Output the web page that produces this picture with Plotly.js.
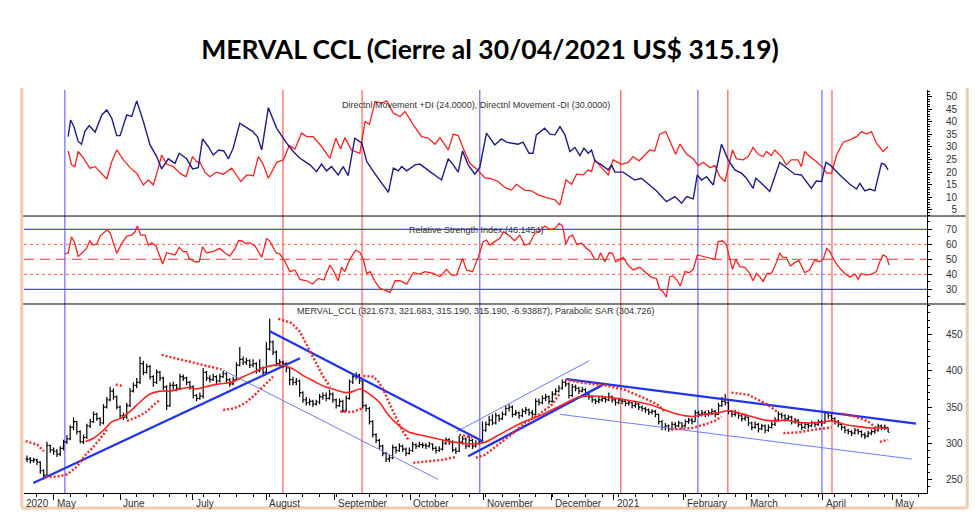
<!DOCTYPE html>
<html>
<head>
<meta charset="utf-8">
<script src="https://cdn.plot.ly/plotly-3.0.1.min.js"></script>
<style>
  body { margin: 0; background: #fff; }
  #graph { width: 980px; height: 523px; }
</style>
</head>
<body>
<div id="graph"></div>
<script>
// trading-day index 0..259 (roughly 20 Apr 2020 -> 30 Apr 2021)
const closeP = [
  278,276,277,274,262,256,297,291,289,285,293,302,306,322,330,316,302,308,324,330,
  340,334,328,350,360,372,364,350,338,336,352,372,380,384,410,398,406,392,384,398,
  390,378,352,380,380,376,392,390,384,378,366,362,365,398,390,388,392,386,392,396,
  388,382,388,408,416,412,414,408,410,400,404,398,430,440,426,410,412,410,404,388,
  384,386,370,360,356,358,354,357,364,366,362,368,360,352,358,345,362,385,392,394,
  386,352,348,330,312,304,296,286,278,280,294,290,296,292,286,290,298,296,298,297,
  296,299,293,290,292,300,305,302,291,289,302,306,296,304,296,300,302,318,326,332,
  328,338,334,340,348,350,340,342,338,344,346,342,340,358,356,362,364,358,368,372,
  376,384,382,366,378,376,372,374,368,364,360,358,360,362,360,364,360,356,360,358,
  355,356,352,354,350,348,346,343,344,340,330,322,324,320,326,324,328,324,330,332,
  330,342,340,342,340,342,344,340,352,358,356,344,340,342,338,334,336,328,322,326,
  320,324,318,322,326,332,340,338,334,336,330,332,326,322,326,324,328,326,330,328,
  342,338,334,330,326,322,318,316,314,318,316,312,310,314,316,318,324,322,322,315.19
];
const highP = [
  283,281,280,279,275,264,302,298,294,292,296,305,311,325,336,331,318,312,327,334,
  344,342,336,354,364,378,376,366,352,342,356,376,384,390,420,414,410,408,394,402,
  400,392,380,384,385,382,396,395,392,386,380,368,370,404,400,394,396,394,396,400,
  398,390,392,412,433,420,418,416,416,412,416,406,440,472,442,428,416,414,412,404,
  392,390,388,372,364,362,360,360,368,370,370,374,370,362,362,360,366,388,396,398,
  396,386,354,350,332,314,306,298,288,284,298,296,300,298,294,294,302,300,302,301,
  300,302,300,296,296,304,308,307,304,294,310,310,308,310,306,304,306,330,330,338,
  340,342,340,344,352,354,352,346,344,348,350,348,346,362,362,366,368,366,372,376,
  380,388,388,384,382,381,378,378,376,370,366,362,364,366,365,370,366,362,363,362,
  360,359,357,357,356,352,350,348,347,346,341,332,328,326,330,329,331,329,333,335,
  335,346,345,346,345,346,348,346,356,364,368,358,346,346,344,340,340,337,330,330,
  328,327,326,326,330,336,344,342,340,339,338,335,333,328,329,328,331,330,333,332,
  345,344,340,336,332,328,324,320,318,321,320,318,315,317,319,321,327,326,326,321.68
];
const lowP = [
  274,272,273,270,258,250,255,287,284,281,282,290,299,304,318,312,300,299,306,321,
  328,331,324,326,348,358,360,347,334,332,334,350,370,376,382,394,396,388,378,382,
  386,374,346,350,374,372,374,386,380,374,362,358,360,362,386,384,386,382,384,390,
  384,378,380,386,406,408,408,404,405,396,398,394,396,428,422,406,406,404,398,380,
  380,380,364,356,352,352,350,352,354,360,358,360,356,348,350,342,344,360,382,388,
  382,348,344,326,308,300,292,282,274,274,278,286,288,288,282,284,288,292,294,293,
  292,294,290,286,288,290,298,298,288,285,288,298,292,294,292,294,298,300,316,324,
  325,326,330,332,338,344,336,338,334,336,340,338,336,338,352,354,358,354,356,366,
  370,374,378,362,364,372,368,370,364,360,356,354,355,357,356,358,356,352,354,354,
  351,352,348,349,346,344,342,339,340,336,326,318,318,316,318,320,322,320,322,327,
  326,330,336,337,336,337,339,336,339,350,352,340,336,337,334,330,331,324,318,320,
  315,318,314,316,320,324,330,334,330,331,326,327,322,318,320,320,322,322,324,324,
  327,334,330,326,322,318,314,312,310,312,312,308,306,308,311,313,316,318,318,315.19
];

// red moving average, [day, value]
const movAvg = [
  [17.6,302.5],[20,307],[23,318],[25.6,330],[28,334],[31,344],[34,357],[37,368],[40,372],[43,372],
  [46,375],[48.6,377],[51,375],[53.6,378],[56.6,381],[59.6,383],[62,385],[65,392],[68,398],[71.6,405],
  [74.6,408],[77.6,407],[80.6,401],[83.6,392],[86.6,385],[89.7,378],[92.7,374],[95.7,370],[97.7,371],[100.2,375],
  [102.7,369],[105.7,358],[108.7,339],[111.7,325],[114.7,316],[118.7,311],[122.7,307],[126.7,303],[130.8,300],[134.3,299],
  [137.5,301],[141.7,311],[145.7,321],[149.7,330],[153.7,337],[157.8,346],[161.8,355],[164.8,362],[167.8,365],[171.8,365],
  [175.8,363],[179.8,360],[183.8,357],[187.8,353],[191.8,346],[195.8,340],[199.9,337],[203.9,340],[207.9,342],[210.9,345],
  [213.9,342],[217.9,337],[221.9,332],[225.5,331],[228,332],[232,329],[236,328],[239,329],[242,331],[246,326],
  [250,323],[254,321],[257,321],[259,320]
];

// parabolic SAR, null = flip
const sar = [
  [-0.4,303],[3.1,298],[5.1,289],null,
  [5.6,253],[9.1,254],[12.1,257],[15.1,268],[17.6,284],[19.6,293],[22.1,307],[24.1,319],null,
  [26.7,381],[29.1,379],null,
  [30.1,331],[33.1,336],[36.1,344],[38.6,355],[40.1,360],null,
  [40.5,422],[44.1,418],[49.1,413],[54.1,407],[58.5,402],null,
  [59,346],[62,348],[64.1,352],[66,357],[68.1,365],[70,374],[72,384],[74,392],null,
  [75.6,472],[79.6,466],[82.1,454],[84.1,436],[86.6,415],[89.1,392],[91.2,378],null,
  [94.2,344],[97.7,343],[100.7,348],null,
  [101.2,393],[104.2,392],[105.7,385],[107.2,374],[108.7,358],[110.7,339],[112.7,319],[114.7,305],null,
  [116.2,273],[120.7,275],[124.7,277],[129,281],null,
  [130,312],[132,310],[134,308],null,
  [135,280],[137.7,284],[141.7,298],[145.7,312],[149.7,328],[153.7,339],[157.8,353],[160.3,369],null,
  [161.8,388],[167.8,383],[173.8,380],[179.8,374],[185.8,362],[189.8,353],[191.8,344],null,
  [193.8,319],[199.9,321],[203.9,326],[206.9,331],[208.9,337],null,
  [211.9,370],[216.9,367],[219.9,360],[222.9,353],[225.5,344],null,
  [227.5,314],[232,315],[237,319],[242,322],null,
  [245,341],[249,337],[253,330],[255.5,321],null,
  [256.5,302],[258,303.5],[259,304.7]
];

// drawn trend lines [day0, price0, day1, price1]
const trendThick = [[1.9,245,82.1,417.5],[72.9,455,137.2,302.5],[132.7,282,173.3,381],[162.3,388.5,267.4,327]];
const trendThin = [[59,401,123.7,250],[129.2,316,169.1,414],[160.3,340,266.1,278.2]];

// Directional movement
const plusDI = [
  [12.4,34.1],[13.1,40.7],[14.1,38.1],[15.4,32.2],[16.4,31.1],[17.4,36.1],[18.7,38.5],[20.5,35.9],[22.5,42.7],[24,44.7],
  [25.5,41.4],[27,34.5],[28,34.5],[30,42.7],[31.5,42.1],[33,48.3],[35,40.1],[37,30.8],[39,26.2],[40.5,21.3],
  [42.5,25.3],[44.5,23.5],[45.8,27.5],[48,25.3],[49.8,21.3],[51.5,21.8],[52.8,33.2],[54.5,30.2],[56,26.8],[57.7,28.8],
  [59.2,28.4],[60.6,25.3],[62,29.5],[64,39.4],[66.1,37.7],[67.9,36.1],[69.3,34.1],[70.6,28.8],[72.6,45.6],[75.1,37.4],
  [78.1,31.5],[80.1,28.2],[82.1,25.5],[85.1,22.9],[87.1,20.2],[88.6,23.2],[90.1,20.5],[91.6,22.2],[93.6,18.9],[95.1,22.2],
  [96.6,18.6],[98.6,33.5],[100.7,31.5],[102.2,24.2],[104.2,20.2],[106.7,15.6],[108.7,12.0],[110.2,21.6],[111.7,20.5],[112.7,22.2],
  [114.2,20.5],[116.7,22.9],[118.2,23.2],[121.2,20.2],[124.7,16.9],[126.7,25.3],[128.2,22.9],[129.7,20.0],[131,28.4],[132.7,22.9],
  [134.7,19.2],[136.2,22],[138.2,35.5],[140.7,30.8],[142.7,33.2],[144.2,31.9],[146.2,31.5],[147.7,31.1],[149.2,31.9],[151,27.5],
  [152.2,27.5],[153.2,34.8],[155.7,37.4],[157.3,35.1],[158.8,34.8],[160.3,38.1],[161.8,34.8],[163.3,28.2],[164.8,29.8],[166.3,26.6],
  [167.5,29.5],[168.8,27.5],[169.8,28.8],[170.8,24.5],[172.8,22.9],[174.8,20.9],[175.8,22.9],[176.8,20.0],[179.3,20.0],[182.8,16.9],
  [184.8,17.6],[189.3,12.6],[192.3,8.3],[194.9,10.3],[196.9,7.7],[198.4,10.3],[200.4,9.4],[201.6,18.9],[202.9,16.9],[204.4,18.2],
  [206.4,14.9],[208.9,31.1],[210.9,24.9],[212.9,20.9],[214.9,19.6],[216.4,17.6],[218.4,13.6],[219.2,17.6],[220.9,15.6],[223.4,12.3],
  [226.4,23.9],[228.4,21.8],[230.9,19.2],[232.9,18.9],[235.9,13.6],[237.4,16.5],[239,16.3],[240.3,23.9],[241.5,22.9],[244.5,18.9],
  [247.5,15.2],[249.5,13.3],[250.5,15.6],[252,12.6],[253.5,13.3],[255,12.6],[257,23.5],[258,23.1],[259,20.9]
];
const minusDI = [
  [12.4,28.4],[13.4,22.9],[14.4,22.2],[15.4,28.2],[16.9,25.8],[18.9,21.6],[20.5,22.2],[22,20.0],[24,17.3],[25.5,24.2],
  [27,28.8],[29,24.9],[31,21.8],[33,19.6],[35,14.9],[36.5,16.9],[38,14.9],[39.5,21.6],[40.5,26.8],[42,23.2],
  [44,22.2],[46,19.6],[47.8,18.2],[49.8,26.2],[51,24.2],[52,23.9],[53.5,20.0],[55,18.2],[57,20.0],[59,19.2],
  [61.6,21.6],[64.3,16.3],[66.1,18.9],[68.1,18.6],[69.6,26.2],[71.1,22.9],[72.6,17.6],[75.1,23.9],[77.1,24.9],[78.9,30.6],
  [80.6,29.2],[82.6,35.5],[84.1,34.1],[86.1,34.1],[88.6,30.2],[91.1,25.5],[92.9,33.5],[94.3,29.2],[95.6,33.7],[97.6,28.8],
  [100.1,27.5],[101.7,40.1],[103,39.0],[104.7,48.0],[106.7,47.4],[108.2,48.3],[110.2,43.4],[112.2,42.1],[113.7,44.1],[116.2,38.8],
  [118.7,34.1],[120.7,33.5],[122.7,31.1],[124.2,33.7],[126.7,28.8],[128.2,35.1],[129.7,34.5],[131.2,29.5],[133.2,23.5],[135.2,21.3],
  [137.7,17.8],[139.8,17.3],[141.7,16.3],[143.7,13.9],[145.7,12.9],[147.2,15.2],[149.7,12.9],[151.7,12.6],[153.7,11.0],[156.3,9.9],
  [158.8,9.0],[160.3,7.0],[162.1,16.9],[163.8,15.2],[165.3,19.2],[167.3,18.9],[168.8,20.9],[169.8,20.2],[170.8,24.9],[172.8,21.8],
  [174.8,18.9],[176.3,24.9],[178.8,23.1],[180.8,23.9],[182.3,26.2],[184.1,24.5],[185.8,26.8],[187.3,28.8],[188.8,28.4],[190.3,35.1],
  [192.1,36.1],[193.8,30.8],[195.1,27.1],[196.4,31.1],[198.4,27.1],[200.4,25.3],[201.9,22.6],[203.4,23.9],[205.4,21.8],[206.9,22.6],
  [208.4,18.2],[209.9,16.3],[211.2,22.9],[212.2,28.8],[213.4,25.3],[215.4,24.9],[216.9,26.2],[218.4,29.8],[219.9,27.1],[221.4,26.2],
  [222.4,28.2],[223.9,26.6],[224.9,28.8],[226.9,26.2],[228.4,22.9],[229.9,24.9],[231.9,24.9],[232.9,22.2],[233.9,28.2],[235.4,26.2],
  [237.4,24.2],[239.5,21.6],[240.5,19.6],[242,19.6],[243.5,26.8],[245.5,31.9],[247.5,32.8],[249.5,34.1],[251,36.1],[252.5,35.1],
  [254,36.1],[255.5,31.5],[257.5,28.2],[259,30.2]
];

// RSI
const rsi = [
  [11.4,53.5],[12.4,54.4],[13.4,65.1],[14.4,60.7],[15.4,51.8],[16.9,55.1],[17.9,57.3],[18.9,62.4],[19.9,59.5],[21,60.2],
  [22,65.5],[24,69.5],[25,67.8],[27,54.0],[28.5,60.7],[30,65.5],[31.5,66.2],[32.5,68.4],[33.2,72.2],[34.2,66.2],
  [35.5,66.2],[36.5,59.5],[37.5,61.1],[38.8,58.9],[39.8,52.9],[40.8,46.9],[42,54.4],[43.5,53.5],[44.5,52.9],[45.8,58.0],
  [47,55.1],[48,55.1],[48.8,50.6],[50.5,48.4],[51.8,48.4],[52.8,58.4],[54,54.4],[56,55.1],[58,57.3],[59.5,54.4],
  [61,52.2],[62.6,57.3],[63.6,62.4],[64.6,62.4],[65.6,60.7],[66.9,61.1],[68.6,58.9],[70.6,51.3],[72.1,64.0],[73.1,61.8],
  [74.9,54.4],[76.1,53.5],[77.6,48.4],[79.1,41.8],[80.6,42.9],[82.1,36.6],[84.1,35.7],[85.9,33.5],[87.6,37.3],[89.3,36.2],
  [91.1,46.2],[92.1,42.9],[93.6,35.7],[94.6,44.7],[95.6,41.8],[97.1,50.0],[98.9,56.2],[100.2,54.4],[101.2,49.5],[102.2,40.6],
  [103.2,41.8],[104.7,35.1],[106.2,30.6],[107.7,29.5],[109.2,27.8],[110.7,35.7],[112.2,35.7],[114.2,33.5],[116.2,41.1],[118.2,40.2],
  [119.7,41.8],[122.2,40.6],[124.2,38.4],[126.2,43.3],[127.7,39.5],[129.2,39.5],[131,50.6],[132.2,42.9],[134,41.8],[135.8,51.8],
  [137.2,61.8],[138.2,62.9],[139.2,59.5],[140.7,61.8],[142.2,64.0],[143.4,68.4],[145.2,65.5],[146.7,62.4],[148.2,66.2],[149.7,59.5],
  [151.2,60.7],[152.7,67.3],[154.2,68.4],[155.7,72.2],[157.3,70.0],[158.8,70.6],[160.1,74.0],[161.1,72.2],[162.1,60.2],[163.1,65.1],
  [164.1,66.2],[165.3,60.2],[166.8,60.7],[168.3,57.3],[169.3,55.7],[170.8,50.0],[171.8,50.0],[172.5,54.4],[173.8,48.4],[175.1,54.4],
  [176.1,54.0],[177.1,48.4],[179.3,51.3],[180.8,46.2],[182.3,42.9],[184.3,44.7],[185.8,41.8],[187.8,38.0],[189.3,37.3],[190.3,30.0],
  [191.3,28.4],[192.3,24.7],[193.3,38.4],[194.3,38.9],[195.5,36.2],[196.5,32.2],[197.9,41.8],[199.2,41.1],[200.4,43.3],[201.6,52.9],
  [206.9,50.0],[207.9,61.8],[209.2,62.4],[210.4,59.5],[211.2,52.2],[212.2,43.3],[213.2,50.0],[214.4,45.1],[215.9,44.7],[217.2,41.1],
  [218.4,35.7],[219.4,40.6],[220.4,38.4],[221.4,35.1],[222.6,40.6],[223.9,40.6],[225.2,46.9],[226.4,54.0],[227.4,51.3],[228.4,51.3],
  [229.6,45.5],[230.9,47.8],[232.2,49.1],[233.9,41.1],[235.4,42.9],[236.9,49.5],[238.3,48.4],[239.5,50.0],[240.5,57.3],[241.5,55.1],
  [243,48.4],[244.5,44.0],[246,40.6],[247.5,38.0],[249,40.2],[250,36.6],[251,40.6],[252.5,39.5],[254,40.2],[255.5,41.8],
  [256.5,48.4],[257.5,52.9],[258.5,51.8],[259.3,46.1]
];

// signal lines (trading-day positions)
const blueSignals = [11.4, 136.2, 201.8, 239.1];
const redSignals = [77.0, 178.6, 210.8];
const paleRedSignals = [100.8, 242.1];

// x axis months
const monthIdx = [8.1, 28, 49.9, 71.9, 92.6, 115.2, 137.4, 157.9, 176.5, 197.6, 216.5, 239.4, 260.2];
const monthText = ['May','June','July','August','September','October','November','December','2021','February','March','April','May'];

const days = closeP.map((c, i) => i);
const openP = closeP.map((c, i) => i === 0 ? c : closeP[i - 1]);

const xs = a => a.map(p => p === null ? null : p[0]);
const ys = a => a.map(p => p === null ? null : p[1]);

const RED = '#ff2020';
const traces = [];

traces.push({
  type: 'ohlc', x: days, open: openP, high: highP, low: lowP, close: closeP,
  xaxis: 'x', yaxis: 'y', tickwidth: 0.45, hoverinfo: 'skip',
  increasing: { line: { color: '#000', width: 1.2 } },
  decreasing: { line: { color: '#000', width: 1.2 } }
});
trendThin.forEach(t => traces.push({
  x: [t[0], t[2]], y: [t[1], t[3]], mode: 'lines', xaxis: 'x', yaxis: 'y',
  line: { color: '#6f7dff', width: 1 }, hoverinfo: 'skip'
}));
trendThick.forEach(t => traces.push({
  x: [t[0], t[2]], y: [t[1], t[3]], mode: 'lines', xaxis: 'x', yaxis: 'y',
  line: { color: '#2233ee', width: 2.3 }, hoverinfo: 'skip'
}));
traces.push({
  x: xs(movAvg), y: ys(movAvg), mode: 'lines', xaxis: 'x', yaxis: 'y',
  line: { color: RED, width: 1.6, shape: 'spline' }, hoverinfo: 'skip'
});
traces.push({
  x: xs(sar), y: ys(sar), mode: 'lines', xaxis: 'x', yaxis: 'y', connectgaps: false,
  line: { color: RED, width: 2.4, dash: '2px,2px' }, hoverinfo: 'skip'
});
traces.push({
  x: xs(rsi), y: ys(rsi), mode: 'lines', xaxis: 'x', yaxis: 'y2',
  line: { color: RED, width: 1.3 }, hoverinfo: 'skip'
});
traces.push({
  x: xs(minusDI), y: ys(minusDI), mode: 'lines', xaxis: 'x', yaxis: 'y3',
  line: { color: RED, width: 1.3 }, hoverinfo: 'skip'
});
traces.push({
  x: xs(plusDI), y: ys(plusDI), mode: 'lines', xaxis: 'x', yaxis: 'y3',
  line: { color: '#1c1c8a', width: 1.4 }, hoverinfo: 'skip'
});

const shapes = [];
const vline = (x, color, width) => shapes.push({
  type: 'line', xref: 'x', yref: 'paper', x0: x, x1: x, y0: 0, y1: 1,
  line: { color: color, width: width }, layer: 'below'
});
blueSignals.forEach(x => vline(x, '#4a4aff', 1));
redSignals.forEach(x => vline(x, '#ff3a3a', 1));
paleRedSignals.forEach(x => vline(x, 'rgba(255,90,90,0.6)', 2));

const hline = (y, color, width, dash) => shapes.push({
  type: 'line', xref: 'paper', yref: 'y2', x0: 0, x1: 1, y0: y, y1: y,
  line: { color: color, width: width, dash: dash }, layer: 'below'
});
hline(70, '#4a4aee', 1.2, 'solid');
hline(30, '#4a4aee', 1.2, 'solid');
hline(60, '#ff5a5a', 1, 'dot');
hline(40, '#ff5a5a', 1, 'dot');
hline(50, '#ff5a5a', 1.2, '10px,6px');

// panel separators
[0.469, 0.6873].forEach(y => shapes.push({
  type: 'line', xref: 'paper', yref: 'paper', x0: -0.002, x1: 1.043, y0: y, y1: y,
  line: { color: '#000', width: 1 }
}));
// peach frame
const peach = '#f3cbb0';
shapes.push({ type: 'line', xref: 'paper', yref: 'paper', x0: -0.0025, x1: -0.0025, y0: -0.037, y1: 1.005, line: { color: peach, width: 3 } });
shapes.push({ type: 'line', xref: 'paper', yref: 'paper', x0: 1.0445, x1: 1.0445, y0: -0.037, y1: 1.005, line: { color: peach, width: 3 } });
shapes.push({ type: 'line', xref: 'paper', yref: 'paper', x0: -0.0025, x1: 1.0445, y0: -0.037, y1: -0.037, line: { color: peach, width: 3 } });

const small = { family: 'Liberation Sans, Arial, sans-serif', size: 9, color: '#333' };
const annotations = [
  { text: 'Directnl Movement +DI (24.0000), Directnl Movement -DI (30.0000)', x: 0.5006, y: 0.980, xref: 'paper', yref: 'paper', showarrow: false, font: small },
  { text: 'Relative Strength Index (46.1454)', x: 0.5006, y: 0.670, xref: 'paper', yref: 'paper', showarrow: false, font: small },
  { text: 'MERVAL_CCL (321.673, 321.683, 315.190, 315.190, -6.93887), Parabolic SAR (304.726)', x: 0.5, y: 0.4516, xref: 'paper', yref: 'paper', showarrow: false, font: small },
  { text: '2020', x: -0.9, y: -0.008, xref: 'x', yref: 'paper', xanchor: 'left', yanchor: 'top', showarrow: false,
    font: { family: 'Liberation Sans, Arial, sans-serif', size: 10, color: '#333' } }
];
monthIdx.forEach((m, k) => annotations.push({
  text: monthText[k], x: m, y: -0.008, xref: 'x', yref: 'paper', xanchor: 'left', yanchor: 'top',
  xshift: 1, showarrow: false, font: { family: 'Liberation Sans, Arial, sans-serif', size: 10, color: '#333' }
}));

const yCommon = {
  side: 'right', anchor: 'x', showgrid: false, zeroline: false, showline: true,
  linecolor: '#000', linewidth: 1, ticks: 'outside', ticklen: 4, tickcolor: '#000',
  ticklabelstandoff: 12, tickfont: { family: 'Liberation Sans, Arial, sans-serif', size: 10, color: '#333' },
  fixedrange: true
};

const layout = {
  width: 980, height: 523,
  margin: { l: 24, r: 53, t: 90, b: 30 },
  paper_bgcolor: '#fff', plot_bgcolor: '#fff', showlegend: false,
  title: {
    text: '<b>MERVAL CCL (Cierre al 30/04/2021 US$ 315.19)</b>',
    x: 0.5, xanchor: 'center', y: 0.904, yanchor: 'middle',
    font: { family: 'Lato, sans-serif', size: 26.5, color: '#000' }
  },
  xaxis: {
    range: [-0.9, 270.7], showgrid: false, zeroline: false, showline: true, linecolor: '#000',
    ticks: 'outside', ticklen: 6, tickcolor: '#000', tickvals: monthIdx, showticklabels: false,
    minor: { ticks: 'outside', ticklen: 3, dtick: 5, tick0: 3, tickcolor: '#000' },
    rangeslider: { visible: false }, fixedrange: true
  },
  yaxis: Object.assign({}, yCommon, {
    domain: [0, 0.469], range: [231.3, 492.4],
    tickvals: [250, 300, 350, 400, 450],
    minor: { ticks: 'outside', ticklen: 2, dtick: 10, tickcolor: '#000' }
  }),
  yaxis2: Object.assign({}, yCommon, {
    domain: [0.469, 0.6873], range: [20.2, 78.9],
    tickvals: [30, 40, 50, 60, 70],
    minor: { ticks: 'outside', ticklen: 2, dtick: 5, tickcolor: '#000' }
  }),
  yaxis3: Object.assign({}, yCommon, {
    domain: [0.6873, 1], range: [2.6, 52.6],
    tickvals: [5, 10, 15, 20, 25, 30, 35, 40, 45, 50],
    ticktext: ['\u20075', '10', '15', '20', '25', '30', '35', '40', '45', '50'],
    minor: { ticks: 'outside', ticklen: 2, dtick: 1, tickcolor: '#000' }
  }),
  shapes: shapes,
  annotations: annotations
};

Plotly.newPlot('graph', traces, layout, { staticPlot: true });
</script>
</body>
</html>
